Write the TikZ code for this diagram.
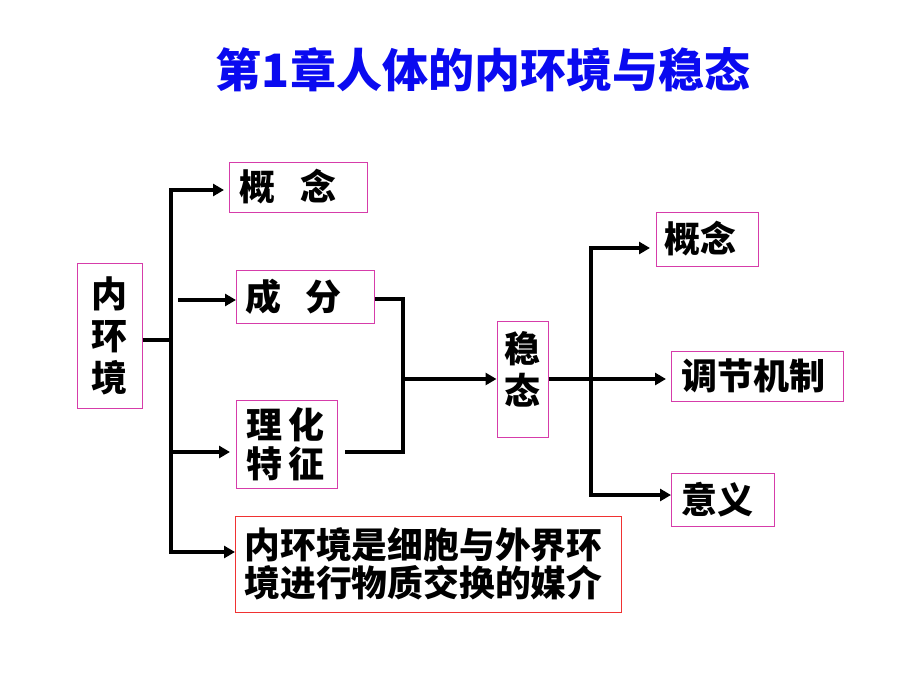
\documentclass[tikz,border=0pt]{standalone}
\usepackage{fontspec}
\setmainfont{Noto Sans CJK SC}
\usetikzlibrary{arrows.meta}
\definecolor{pinkb}{RGB}{214,60,170}
\definecolor{redb}{RGB}{240,50,50}
\definecolor{titleblue}{RGB}{10,10,240}
\tikzset{
  boxp/.style={draw=pinkb, line width=1pt, inner ysep=0pt, minimum height=#1, anchor=west},
  boxt/.style={font=\bfseries\fontsize{36}{42}\selectfont},
  conn/.style={line width=3.4pt, line cap=butt, line join=miter},
  arr/.style={conn, -{Triangle[length=11pt,width=12pt]}},
}
\begin{document}
\begin{tikzpicture}[x=1pt,y=-1pt]
\useasboundingbox (0,0) rectangle (920,690);
% title
\node[text=titleblue, font=\bfseries\fontsize{46}{50}\selectfont] (title) at (483,70) {第1章人体的内环境与稳态};
% left boxes
\node[draw=pinkb, line width=1pt, minimum width=65pt, minimum height=145pt, inner sep=0pt, align=center, boxt] (nhj) at (109.5,335.5) {内\\环\\境};
\node[boxp=50pt, inner xsep=10pt, text width=118pt, align=left, boxt] (gn1) at (229,187) {概\hspace{25pt}念};
\node[boxp=53pt, inner xsep=9pt, text width=120pt, align=left, boxt] (cf) at (236,296.5) {成\hspace{24pt}分};
\node[boxp=88pt, inner xsep=10pt, text width=81pt, align=left, boxt, font=\bfseries\fontsize{36}{39}\selectfont] (lh) at (236,444) {理\hspace{6pt}化\\特\hspace{6pt}征};
\node[draw=redb, line width=1pt, minimum height=96pt, inner ysep=0pt, anchor=west, inner xsep=9pt, text width=368pt, align=left, font=\bfseries\fontsize{35.8}{38}\selectfont] (jz) at (235,564) {内环境是细胞与外界环\\境进行物质交换的媒介};
% middle
\node[draw=pinkb, line width=1pt, minimum width=51pt, minimum height=116pt, inner sep=0pt] (wt) at (522.5,379) {};
\node[boxt, align=center, inner sep=0pt] (wtt) at (522,369) {稳\\态};
% right boxes
\node[boxp=54pt, inner xsep=8pt, text width=86pt, align=left, boxt] (gn2) at (656,239) {概念};
\node[boxp=50pt, inner xsep=10pt, text width=152pt, align=left, boxt] (tj) at (671,376) {调节机制};
\node[boxp=53pt, inner xsep=10pt, text width=83pt, align=left, boxt] (yy) at (671,499.5) {意义};
% left bus
\coordinate (bt) at (171,190);
\coordinate (bb) at (171,552);
\draw[conn] ([yshift=-4.5pt]nhj.east) -- (171,340);
\draw[conn] ([yshift=1.7pt]bt) -- ([yshift=-1.7pt]bb);
\draw[arr] (bt) -- (224,190);
\draw[arr] (178,300) -- ([yshift=-3.5pt]cf.west);
\draw[arr] (171,452) -- (230,452);
\draw[arr] (bb) -- ([yshift=12pt]jz.west);
% bracket
\draw[conn] ([yshift=-2.5pt]cf.east) -- (403,299) -- (403,452) -- (345,452);
\draw[arr] (403,379) -- (wt.west);
% right bus
\draw[conn] (wt.east) -- (591,379);
\draw[arr] (591,379) -- ([xshift=-5pt]tj.west |- 0,379);
\draw[conn] (591,246.3) -- (591,496.7);
\draw[arr] (591,248) -- ([xshift=-6pt]gn2.west |- 0,248);
\draw[arr] (591,495) -- (yy.west |- 0,495);
\end{tikzpicture}
\end{document}
